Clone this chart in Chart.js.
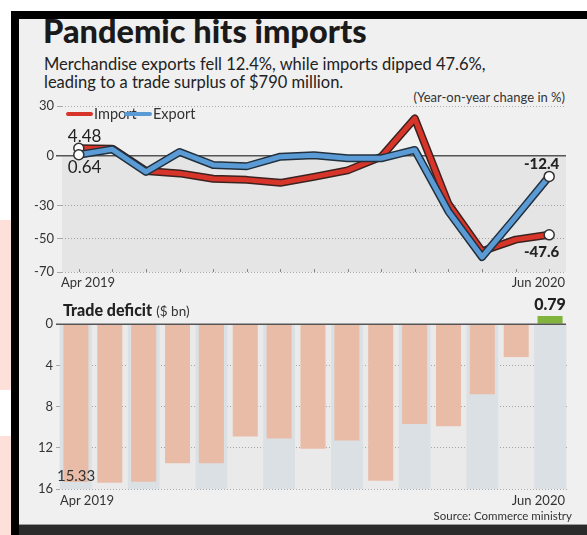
<!DOCTYPE html>
<html><head><meta charset="utf-8">
<script src="https://cdn.jsdelivr.net/npm/chart.js@4/dist/chart.umd.min.js"></script>
<style>
html,body{margin:0;padding:0;background:#fff;}
body{width:587px;height:535px;position:relative;overflow:hidden;font-family:Lato,"Open Sans",sans-serif;color:#222;}
.abs{position:absolute;white-space:nowrap;}
#panel{position:absolute;left:19px;top:19px;width:568px;height:506px;background:#f0f0f0;}
#ftop{position:absolute;left:11px;top:11px;width:576px;height:8px;background:#000;}
#fleft{position:absolute;left:11px;top:11px;width:8px;height:524px;background:#000;}
#fbot{position:absolute;left:19px;top:524px;width:568px;height:11px;background:#2b2b2b;border-top:1px solid #9a9a9a;}
.pink{position:absolute;left:0;width:11px;background:#fde0da;}
canvas{position:absolute;}
</style></head>
<body>
<div class="pink" style="top:220px;height:170px;"></div>
<div class="pink" style="top:436px;height:99px;"></div>
<div id="panel"></div>
<div id="ftop"></div><div id="fleft"></div><div id="fbot"></div>

<div class="abs" style="left:43px;top:11px;font-size:32.5px;font-weight:900;letter-spacing:0;color:#1a1a1a;">Pandemic hits imports</div>
<div class="abs" style="left:44px;top:55px;font-size:16.5px;line-height:18px;color:#222;">Merchandise exports fell 12.4%, while imports dipped 47.6%,<br>leading to a trade surplus of $790 million.</div>
<div class="abs" style="right:22px;top:89px;font-size:13px;color:#333;">(Year-on-year change in %)</div>

<div style="position:absolute;left:19px;top:90px;width:568px;height:195px;"><canvas id="lineChart" width="568" height="195" style="left:0;top:0;"></canvas></div>
<div style="position:absolute;left:19px;top:290px;width:568px;height:235px;"><canvas id="barChart" width="568" height="235" style="left:0;top:0;"></canvas></div>

<div class="abs" style="left:66px;top:112px;width:27px;height:4px;background:#d8352a;border-radius:2px;"></div>
<div class="abs" style="left:94px;top:105px;font-size:14.5px;color:#333;">Import</div>
<div class="abs" style="left:124px;top:112px;width:28px;height:4px;background:#5b9bd5;border-radius:2px;"></div>
<div class="abs" style="left:153px;top:105px;font-size:14.5px;color:#333;">Export</div>

<div class="abs" style="left:61px;top:274px;font-size:13px;color:#333;">Apr 2019</div>
<div class="abs" style="right:22px;top:274px;font-size:13px;color:#333;">Jun 2020</div>

<div class="abs" style="left:63px;top:300px;color:#222;"><span style="font-size:16px;font-weight:900;">Trade deficit</span> <span style="font-size:13.5px;color:#333;">($ bn)</span></div>

<div class="abs" style="left:60px;top:492px;font-size:13px;color:#333;">Apr 2019</div>
<div class="abs" style="right:22px;top:492px;font-size:13px;color:#333;">Jun 2020</div>
<div class="abs" style="right:15px;top:509px;font-size:11.5px;color:#333;">Source: Commerce ministry</div>

<script>
const months = ['Apr 2019','May 2019','Jun 2019','Jul 2019','Aug 2019','Sep 2019','Oct 2019','Nov 2019','Dec 2019','Jan 2020','Feb 2020','Mar 2020','Apr 2020','May 2020','Jun 2020'];
const importChange = [4.48, 4.3, -9.1, -10.6, -13.8, -14.5, -16.3, -12.7, -8.8, -0.6, 22.5, -29.0, -57.5, -50.5, -47.6];
const exportChange = [0.64, 3.9, -9.7, 2.3, -5.5, -6.3, -0.5, 0.3, -1.5, -1.5, 3.5, -33.5, -61.0, -37.0, -12.4];
const tradeDeficit = [15.33, 15.4, 15.3, 13.5, 13.5, 10.9, 11.1, 12.1, 11.3, 15.2, 9.7, 9.9, 6.8, 3.2, -0.79];
const lineTicks = [30, 0, -30, -50, -70];
const barTicks = [0, 4, 8, 12, 16];

const RED = '#d8352a', BLUE = '#5b9bd5', OUT_R = '#3b2320', OUT_B = '#22303d';
const FONT = 'Lato, "Open Sans", sans-serif';
const endRadius = months.map((m,i)=> (i===0||i===months.length-1) ? 5 : 0);

const lineDecor = {
  id:'lineDecor',
  beforeDatasetsDraw(chart){
    const {ctx, chartArea:a, scales:{x,y}} = chart;
    const y0 = y.getPixelForValue(0);
    ctx.save();
    ctx.fillStyle = 'rgba(0,0,0,0.045)';
    ctx.fillRect(a.left, y0, a.right-a.left, a.bottom-y0);
    ctx.strokeStyle = '#555'; ctx.lineWidth = 1.5;
    ctx.beginPath(); ctx.moveTo(a.left-6, y0); ctx.lineTo(a.right, y0); ctx.stroke();
    ctx.strokeStyle = '#888'; ctx.lineWidth = 1;
    months.forEach((m,i)=>{ const px = Math.round(x.getPixelForValue(i))+0.5; ctx.beginPath(); ctx.moveTo(px,a.bottom-3); ctx.lineTo(px,a.bottom); ctx.stroke(); });
    ctx.restore();
  },
  afterDatasetsDraw(chart){
    const {ctx} = chart;
    const imp = chart.getDatasetMeta(1).data, exp = chart.getDatasetMeta(3).data;
    const last = months.length-1;
    ctx.save();
    ctx.fillStyle = '#222';
    ctx.textBaseline = 'middle';
    ctx.font = '17px ' + FONT; ctx.textAlign = 'left';
    ctx.fillText(importChange[0].toFixed(2), imp[0].x-11, imp[0].y-12);
    ctx.fillText(exportChange[0].toFixed(2), exp[0].x-11, exp[0].y+13);
    ctx.font = '900 15px ' + FONT; ctx.textAlign = 'right';
    ctx.fillText(exportChange[last].toFixed(1), exp[last].x+10, exp[last].y-12);
    ctx.fillText(importChange[last].toFixed(1), imp[last].x+10, imp[last].y+17);
    ctx.restore();
  }
};

new Chart(document.getElementById('lineChart'), {
  type:'line',
  data:{ labels: months, datasets:[
    {label:'Import outline', order:4, data:importChange, borderColor:OUT_R, borderWidth:8, pointRadius:0, tension:0, clip:false},
    {label:'Import', order:3, data:importChange, borderColor:RED, borderWidth:5, pointRadius:endRadius, pointBackgroundColor:'#fff', pointBorderColor:'#333', pointBorderWidth:1.5, tension:0, clip:false},
    {label:'Export outline', order:2, data:exportChange, borderColor:OUT_B, borderWidth:8, pointRadius:0, tension:0, clip:false},
    {label:'Export', order:1, data:exportChange, borderColor:BLUE, borderWidth:5, pointRadius:endRadius, pointBackgroundColor:'#fff', pointBorderColor:'#333', pointBorderWidth:1.5, tension:0, clip:false}
  ]},
  options:{
    responsive:false, animation:false, events:[],
    layout:{padding:{top:16, right:21, bottom:13, left:0}},
    plugins:{legend:{display:false}, tooltip:{enabled:false}},
    elements:{line:{borderJoinStyle:'round', borderCapStyle:'round'}},
    scales:{
      x:{type:'category', offset:true, display:false},
      y:{min:-70, max:30,
         afterBuildTicks(s){ s.ticks = lineTicks.map(v=>({value:v})); },
         afterFit(s){ s.width = 43; },
         ticks:{color:'#333', font:{family:FONT, size:13}, padding:3},
         grid:{color:(c)=> c.tick && c.tick.value===0 ? 'rgba(0,0,0,0)' : '#a9a9a9', lineWidth:1, tickLength:5, tickColor:(c)=> c.tick && c.tick.value===0 ? '#555' : '#a9a9a9'},
         border:{display:false, dash:[1,2]}
      }
    }
  },
  plugins:[lineDecor]
});

const barDecor = {
  id:'barDecor',
  beforeDatasetsDraw(chart){
    const {ctx, chartArea:a, scales:{x,y}} = chart;
    const y0 = y.getPixelForValue(0), y16 = y.getPixelForValue(16);
    const w = (a.right-a.left)/months.length;
    ctx.save();
    ctx.fillStyle = 'rgba(0,0,0,0.025)';
    ctx.fillRect(a.left, y0, a.right-a.left, y16-y0);
    ctx.fillStyle = '#dbe0e5';
    months.forEach((m,i)=>{ if(i%2===0){ const cx = x.getPixelForValue(i); ctx.fillRect(cx-w*0.47, y0, w*0.94, y16-y0); } });
    ctx.restore();
  },
  afterDatasetsDraw(chart){
    const {ctx, chartArea:a, scales:{y}} = chart;
    const bars = chart.getDatasetMeta(0).data;
    const y0 = y.getPixelForValue(0);
    ctx.save();
    ctx.strokeStyle = '#555'; ctx.lineWidth = 1.5;
    ctx.beginPath(); ctx.moveTo(a.left-3, y0); ctx.lineTo(a.right-1, y0); ctx.stroke();
    ctx.fillStyle = '#333'; ctx.textBaseline = 'middle';
    ctx.font = '15px ' + FONT; ctx.textAlign = 'left';
    ctx.fillText(tradeDeficit[0].toFixed(2), bars[0].x-19, bars[0].y-6);
    const last = bars.length-1;
    ctx.fillStyle = '#222'; ctx.font = '900 16px ' + FONT; ctx.textAlign = 'center';
    ctx.fillText(Math.abs(tradeDeficit[last]).toFixed(2), bars[last].x, bars[last].y-11);
    ctx.restore();
  }
};

new Chart(document.getElementById('barChart'), {
  type:'bar',
  data:{ labels: months, datasets:[
    {label:'Trade deficit', data:tradeDeficit, backgroundColor: tradeDeficit.map(v=> v<0 ? '#80b43c' : '#e9bca8'), categoryPercentage:1, barPercentage:0.74}
  ]},
  options:{
    responsive:false, animation:false, events:[],
    layout:{padding:{top:26, right:20, bottom:36, left:0}},
    plugins:{legend:{display:false}, tooltip:{enabled:false}},
    scales:{
      x:{type:'category', offset:true, display:false},
      y:{reverse:true, min:-0.79, max:16,
         afterBuildTicks(s){ s.ticks = barTicks.map(v=>({value:v})); },
         afterFit(s){ s.width = 40; },
         ticks:{color:'#333', font:{family:FONT, size:13}, padding:3},
         grid:{color:(c)=> c.tick && c.tick.value===0 ? 'rgba(0,0,0,0)' : '#a9a9a9', lineWidth:1, tickLength:3, tickColor:(c)=> c.tick && c.tick.value===0 ? '#555' : '#a9a9a9'},
         border:{display:false, dash:[1,2]}
      }
    }
  },
  plugins:[barDecor]
});
</script>
</body></html>
